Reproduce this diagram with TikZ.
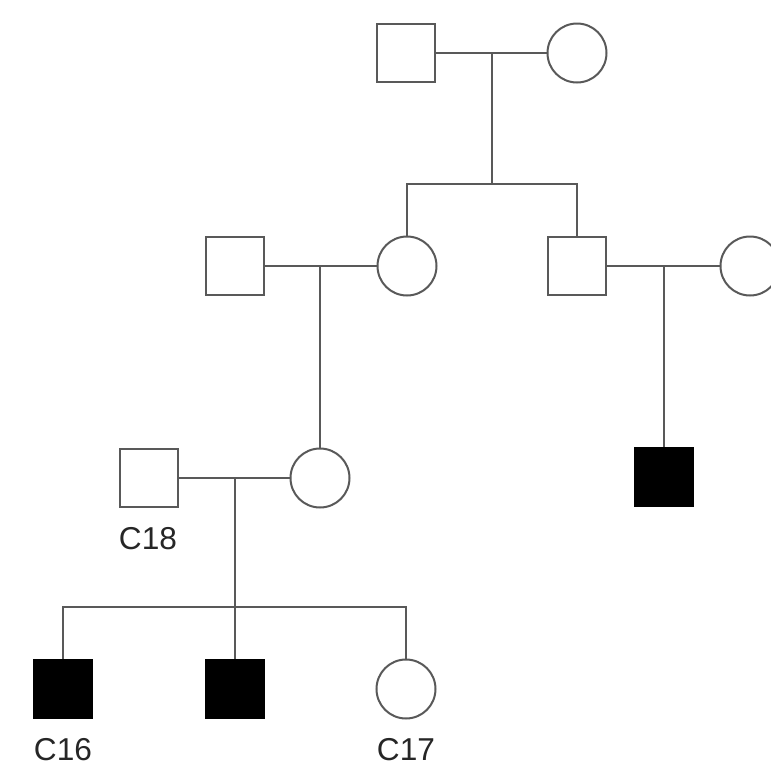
\documentclass[tikz,border=0pt]{standalone}
\usepackage{fontspec}
\setmainfont{Liberation Sans}
\usetikzlibrary{calc}

\tikzset{
    male/.style={draw=black!65, line width=0.4mm, fill=white, minimum size=11.6mm, inner sep=0pt},
    female/.style={circle, draw=black!65, line width=0.4mm, fill=white, minimum size=11.8mm, inner sep=0pt},
    affected/.style={fill=black, draw=black},
    link/.style={black!65, line width=0.4mm},
    tag/.style={text=black!85, font=\fontsize{18}{21}\selectfont}
}

\begin{document}
\begin{tikzpicture}[x=0.2mm, y=-0.2mm]
            \useasboundingbox (0,0) rectangle (771,767);
            % generation I
            \coordinate (MateI)  at (492,53);
            \coordinate (SibI)   at (492,184);
            \node[male]   (GrandFather) at (406,53) {};
            \node[female] (GrandMother) at (577,53) {};

            % generation II
            \coordinate (MateIIa) at (320,266);
            \coordinate (MateIIb) at (664,266);
            \node[male]   (Father)  at (235,266) {};
            \node[female] (Mother)  at (407,266) {};
            \node[male]   (Uncle)   at (577,266) {};
            \node[female] (Aunt)    at (750,266) {};

            % generation III
            \coordinate (MateIII) at (235,478);
            \coordinate (SibIII)  at (235,607);
            \node[male]   (Husband) at (149,478) {};
            \node[female] (Wife)    at (320,478) {};
            \node[male, affected] (Cousin) at (664,477) {};
            \node[tag] at (148,539) {C18};

            % generation IV
            \node[male, affected] (SonA)    at (63,689) {};
            \node[male, affected] (SonB)    at (235,689) {};
            \node[female]         (Daughter) at (406,689) {};
            \node[tag] at (63,750) {C16};
            \node[tag] at (406,750) {C17};

            \draw[link] (GrandFather) -- (GrandMother);% couple I
            \draw[link] (MateI) -- (SibI);
            \draw[link] (Mother.north) |- (SibI) -| (Uncle.north);

            \draw[link] (Father) -- (Mother);% couple II a
            \draw[link] (MateIIa) -- (Wife.north);
            \draw[link] (Uncle) -- (Aunt);% couple II b
            \draw[link] (MateIIb) -- (Cousin.north);

            \draw[link] (Husband) -- (Wife);% couple III
            \draw[link] (MateIII) -- (SibIII);
            \draw[link] (SonA.north) |- (SibIII) -| (Daughter.north);
            \draw[link] (SibIII) -- (SonB.north);
        \end{tikzpicture}
\end{document}
